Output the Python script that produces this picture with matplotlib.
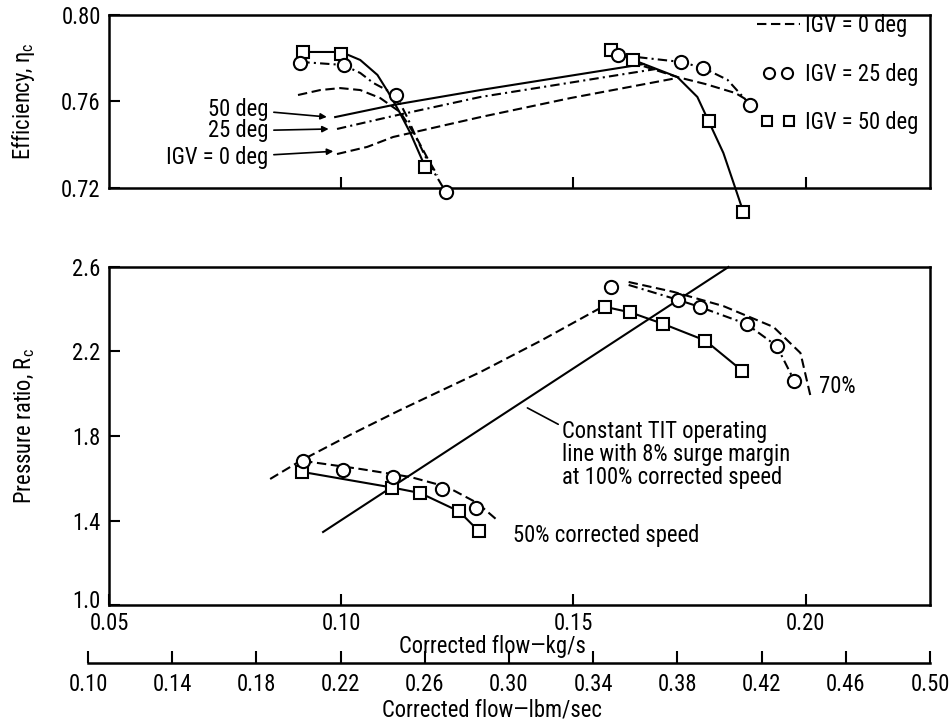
import matplotlib
matplotlib.use("Agg")
import matplotlib.pyplot as plt
from matplotlib import font_manager as fm
from matplotlib.lines import Line2D
from matplotlib.legend_handler import HandlerLine2D
from matplotlib.transforms import ScaledTranslation

# narrow lettering like the scanned report; take the first family that is installed
names = {f.name for f in fm.fontManager.ttflist}
FONT = 'DejaVu Sans'
for n in ['Roboto Condensed', 'Liberation Sans Narrow', 'Liberation Sans']:
    if n in names:
        FONT = n
        break
plt.rcParams['font.family'] = [FONT, 'DejaVu Sans']

# ---- efficiency, 50% corrected speed (flow in kg/s) ----
eff50_sq_x = [0.0917, 0.1000, 0.1181]
eff50_sq_y = [0.783, 0.782, 0.7298]
eff50_ci_x = [0.0912, 0.1005, 0.1119, 0.1226]
eff50_ci_y = [0.778, 0.777, 0.763, 0.7182]
eff50_igv50_x = [0.0916, 0.1000, 0.1041, 0.1078, 0.1101, 0.1123, 0.1149, 0.1181]
eff50_igv50_y = [0.7829, 0.7829, 0.7792, 0.7723, 0.7644, 0.7561, 0.7454, 0.7297]
eff50_igv25_x = [0.0912, 0.1004, 0.1041, 0.1069, 0.1118, 0.1142, 0.1164, 0.1188, 0.1224]
eff50_igv25_y = [0.7783, 0.7769, 0.7732, 0.7686, 0.7630, 0.7528, 0.7422, 0.7316, 0.7186]
eff50_igv0_x = [0.0907, 0.0955, 0.0998, 0.1041, 0.1084, 0.1127, 0.1159, 0.1188, 0.1207]
eff50_igv0_y = [0.7630, 0.7653, 0.7662, 0.7653, 0.7616, 0.7551, 0.7445, 0.7329, 0.7260]

# ---- efficiency, 70% corrected speed ----
eff70_sq_x = [0.1580, 0.1629, 0.1791, 0.1866]
eff70_sq_y = [0.7838, 0.7792, 0.751, 0.7089]
eff70_ci_x = [0.1597, 0.1731, 0.1780, 0.1881]
eff70_ci_y = [0.7815, 0.7783, 0.7755, 0.7584]
eff70_igv50_x = [0.1580, 0.1629, 0.1724, 0.1767, 0.1791, 0.1823, 0.1845, 0.1866]
eff70_igv50_y = [0.7838, 0.7792, 0.7713, 0.7621, 0.7510, 0.7362, 0.7223, 0.7089]
eff70_igv25_x = [0.1597, 0.1731, 0.1780, 0.1832, 0.1881]
eff70_igv25_y = [0.7815, 0.7783, 0.7755, 0.7700, 0.7584]
eff70_igv0_x = [0.1623, 0.1724, 0.1784, 0.1849, 0.1881]
eff70_igv0_y = [0.7783, 0.7713, 0.7681, 0.7639, 0.7598]

# ---- efficiency along constant TIT operating line ----
op50_x = [0.0987, 0.1112, 0.1300, 0.1651]
op50_y = [0.7528, 0.7584, 0.7653, 0.7773]
op25_x = [0.0991, 0.1112, 0.1300, 0.1677]
op25_y = [0.7473, 0.7533, 0.7621, 0.7750]
op0_x = [0.0991, 0.1056, 0.1112, 0.1300, 0.1494, 0.1724]
op0_y = [0.7357, 0.7390, 0.7436, 0.7528, 0.7616, 0.7709]

# ---- pressure ratio, 50% corrected speed ----
pr50_ci_x = [0.0918, 0.1004, 0.1112, 0.1218, 0.1290]
pr50_ci_y = [1.682, 1.639, 1.606, 1.547, 1.457]
pr50_sq_x = [0.0916, 0.1110, 0.1170, 0.1254, 0.1297]
pr50_sq_y = [1.630, 1.556, 1.530, 1.443, 1.348]
pr50_igv0_x = [0.0918, 0.1041, 0.1149, 0.1228, 0.1293, 0.1338]
pr50_igv0_y = [1.682, 1.644, 1.606, 1.559, 1.483, 1.398]

# ---- pressure ratio, 70% corrected speed ----
pr70_ci_x = [0.1582, 0.1726, 0.1772, 0.1873, 0.1938, 0.1976]
pr70_ci_y = [2.505, 2.444, 2.411, 2.330, 2.226, 2.060]
pr70_sq_x = [0.1569, 0.1623, 0.1694, 0.1784, 0.1864]
pr70_sq_y = [2.411, 2.385, 2.330, 2.252, 2.108]
pr70_igv25_x = [0.1619, 0.1726, 0.1772, 0.1873, 0.1938, 0.1976]
pr70_igv25_y = [2.515, 2.444, 2.411, 2.330, 2.226, 2.060]
pr70_igv0_x = [0.1619, 0.1716, 0.1823, 0.1931, 0.1989, 0.2011]
pr70_igv0_y = [2.529, 2.482, 2.415, 2.316, 2.193, 1.985]

# surge line (IGV = 0 deg) and operating line
surge_x = [0.0847, 0.0912, 0.1019, 0.1127, 0.1300, 0.1429, 0.1558, 0.1569]
surge_y = [1.5965, 1.682, 1.805, 1.923, 2.103, 2.250, 2.406, 2.411]
opline_x = [0.0961, 0.1834]
opline_y = [1.3456, 2.600]

kg_ticks = [0.05, 0.10, 0.15, 0.20]
eff_ticks = [0.72, 0.76, 0.80]
pr_ticks = [1.0, 1.4, 1.8, 2.2, 2.6]
lbm_ticks = [0.10, 0.14, 0.18, 0.22, 0.26, 0.30, 0.34, 0.38, 0.42, 0.46, 0.50]

W, H = 953, 723
fig = plt.figure(figsize=(W / 100, H / 100), dpi=100)
fs = 16.3
K = 'black'
DASH = (4.5, 2.2)
DASHDOT = (4.5, 2, 1, 2)
LW = 1.5
MS_C, MS_S = 9.5, 8.5


def px_box(x0, y0, x1, y1):
    return [x0 / W, 1 - y1 / H, (x1 - x0) / W, (y1 - y0) / H]


ax1 = fig.add_axes(px_box(109, 15, 930, 188))
ax2 = fig.add_axes(px_box(109, 267, 930, 605))
ax3 = fig.add_axes(px_box(88, 662.9, 930, 663))

xlim = (0.05, 0.50 * 0.45359)
for ax in (ax1, ax2):
    ax.set_xlim(*xlim)
    for s in ax.spines.values():
        s.set_linewidth(1.8)
    ax.tick_params(direction='in', length=8, width=1.5, labelsize=fs, pad=6)
    ax.set_xticks(kg_ticks[1:] if ax is ax1 else kg_ticks)

ax1.set_ylim(0.72, 0.80)
ax1.set_yticks(eff_ticks)
ax1.set_yticklabels(['%.2f' % v for v in eff_ticks])
ax1.set_xticklabels([])
ax2.set_ylim(1.0, 2.6)
ax2.set_yticks(pr_ticks)
ax2.set_yticklabels(['%.1f' % v for v in pr_ticks])
ax2.set_xticklabels(['%.2f' % v for v in kg_ticks])
ax2.tick_params(axis='x', pad=5)
# lift the "1.0" a little so it clears the "0.05" under the corner
lab10 = ax2.get_yticklabels()[0]
lab10.set_transform(lab10.get_transform() + ScaledTranslation(0, 6 / 100, fig.dpi_scale_trans))

common = dict(color=K, lw=LW, clip_on=False)
ci = dict(marker='o', ms=MS_C, mfc='white', mec=K, mew=1.5, ls='none', clip_on=False, zorder=5)
sq = dict(marker='s', ms=MS_S, mfc='white', mec=K, mew=1.5, ls='none', clip_on=False, zorder=5)

# efficiency panel
ax1.plot(eff50_igv50_x, eff50_igv50_y, ls='-', **common)
ax1.plot(eff50_igv25_x, eff50_igv25_y, dashes=DASHDOT, **common)
ax1.plot(eff50_igv0_x, eff50_igv0_y, dashes=DASH, **common)
ax1.plot(eff70_igv50_x, eff70_igv50_y, ls='-', **common)
ax1.plot(eff70_igv25_x, eff70_igv25_y, dashes=DASHDOT, **common)
ax1.plot(eff70_igv0_x, eff70_igv0_y, dashes=DASH, **common)
ax1.plot(op50_x, op50_y, ls='-', **common)
ax1.plot(op25_x, op25_y, dashes=DASHDOT, **common)
ax1.plot(op0_x, op0_y, dashes=DASH, **common)
ax1.plot(eff50_sq_x, eff50_sq_y, **sq)
ax1.plot(eff70_sq_x, eff70_sq_y, **sq)
ax1.plot(eff50_ci_x, eff50_ci_y, **ci)
ax1.plot(eff70_ci_x, eff70_ci_y, **ci)

arrow = dict(arrowstyle='-|>', color=K, lw=1.2, mutation_scale=9, shrinkA=2, shrinkB=1)
ax1.annotate('50 deg', xy=(op50_x[0] - 0.0015, op50_y[0]), xytext=(0.0843, 0.7565),
             ha='right', va='center', fontsize=fs, arrowprops=arrow)
ax1.annotate('25 deg', xy=(op25_x[0] - 0.0015, op25_y[0]), xytext=(0.0843, 0.7464),
             ha='right', va='center', fontsize=fs, arrowprops=arrow)
ax1.annotate('IGV = 0 deg', xy=(op0_x[0] - 0.0005, op0_y[0] + 0.0013), xytext=(0.0843, 0.7339),
             ha='right', va='center', fontsize=fs, arrowprops=arrow)

# legend: circle / square pairs as in the report
h0 = Line2D([], [], color=K, lw=LW, dashes=DASH)
h25 = Line2D([], [], marker='o', ms=8, mfc='white', mec=K, mew=1.5, ls='none')
h50 = Line2D([], [], marker='s', ms=7.5, mfc='white', mec=K, mew=1.5, ls='none')
ax1.legend([h0, h25, h50], ['IGV = 0 deg', 'IGV = 25 deg', 'IGV = 50 deg'],
           loc='upper right', bbox_to_anchor=(1.0, 1.07), frameon=False, fontsize=fs,
           handlelength=1.9, handletextpad=0.25, labelspacing=1.12, borderaxespad=0.1,
           handler_map={h25: HandlerLine2D(numpoints=2, marker_pad=0.55),
                        h50: HandlerLine2D(numpoints=2, marker_pad=0.45)})

ax1.set_ylabel(r'Efficiency, $\mathregular{\eta_c}$', fontsize=fs)
ax1.yaxis.set_label_coords(-72 / 821, 0.5)

# pressure ratio panel
ax2.plot(surge_x, surge_y, dashes=DASH, **common)
ax2.plot(opline_x, opline_y, ls='-', **common)
ax2.plot(pr50_igv0_x, pr50_igv0_y, dashes=DASH, **common)
ax2.plot(pr50_sq_x, pr50_sq_y, ls='-', **common)
ax2.plot(pr70_igv0_x, pr70_igv0_y, dashes=DASH, **common)
ax2.plot(pr70_igv25_x, pr70_igv25_y, dashes=DASHDOT, **common)
ax2.plot(pr70_sq_x, pr70_sq_y, ls='-', **common)
ax2.plot(pr50_sq_x, pr50_sq_y, **sq)
ax2.plot(pr70_sq_x, pr70_sq_y, **sq)
ax2.plot(pr50_ci_x, pr50_ci_y, **ci)
ax2.plot(pr70_ci_x, pr70_ci_y, **ci)

ax2.annotate('Constant TIT operating\nline with 8% surge margin\nat 100% corrected speed',
             xy=(0.1401, 1.933), xytext=(0.1476, 1.878), ha='left', va='top',
             fontsize=fs, linespacing=1.0,
             arrowprops=dict(arrowstyle='-', color=K, lw=1.2, relpos=(0.0, 0.9),
                             shrinkA=1, shrinkB=0))
ax2.text(0.2028, 2.032, '70%', ha='left', va='center', fontsize=fs)
ax2.text(0.1369, 1.331, '50% corrected speed', ha='left', va='center', fontsize=fs)

ax2.set_ylabel(r'Pressure ratio, $\mathregular{R_c}$', fontsize=fs)
ax2.yaxis.set_label_coords(-72 / 821, 0.53)

fig.text(492 / W, 1 - 646 / H, 'Corrected flow\u2014kg/s', ha='center', va='center', fontsize=fs)

# lbm/sec scale
ax3.set_xlim(0.10, 0.50)
ax3.set_ylim(0, 1)
ax3.set_yticks([])
for side in ('left', 'right', 'top'):
    ax3.spines[side].set_visible(False)
ax3.spines['bottom'].set_linewidth(1.8)
ax3.patch.set_visible(False)
ax3.set_xticks(lbm_ticks)
ax3.set_xticklabels(['%.2f' % v for v in lbm_ticks])
ax3.tick_params(axis='x', direction='in', length=9, width=1.5, labelsize=fs, pad=7)
fig.text(492 / W, 1 - 710 / H, 'Corrected flow\u2014lbm/sec', ha='center', va='center', fontsize=fs)

fig.savefig('out.png', dpi=100)
